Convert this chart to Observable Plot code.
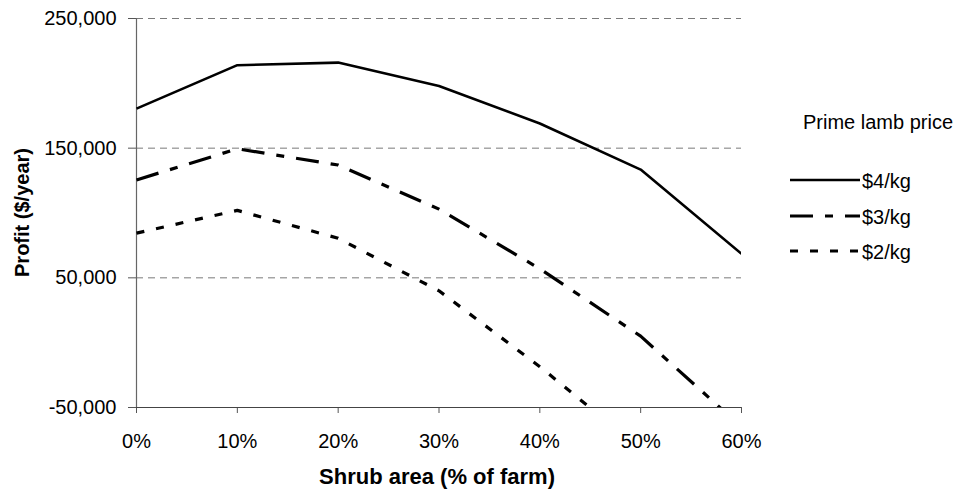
<!DOCTYPE html>
<html>
<head>
<meta charset="utf-8">
<script src="https://cdn.jsdelivr.net/npm/d3@7"></script>
<script src="https://cdn.jsdelivr.net/npm/@observablehq/plot@0.6"></script>
<style>
  html, body { margin: 0; padding: 0; background: #fff; }
  #chart { width: 958px; height: 493px; }
</style>
</head>
<body>
<div id="chart"></div>
<script>
// ---- Data ----
const shrubPct = [0, 10, 20, 30, 40, 50, 60];
const price4 = [180500, 214000, 216000, 198000, 169000, 133500, 68500];
const price3 = [125500, 149500, 137000, 103000, 57000, 5000, -65000];
const price2 = [84500, 102000, 80500, 40000, -18500, -82000, null];
const seriesNames = ["$4/kg", "$3/kg", "$2/kg"];
const yTicks = [-50000, 50000, 150000, 250000];
const gridTicks = [50000, 150000, 250000];
const xTicks = [0, 10, 20, 30, 40, 50, 60];
const legendTitle = "Prime lamb price";
const xTitle = "Shrub area (% of farm)";
const yTitle = "Profit ($/year)";

const FONT = "'Liberation Sans', Arial, Helvetica, sans-serif";
const styles = [
  {strokeWidth: 2.6, strokeDasharray: null},
  {strokeWidth: 3.2, strokeDasharray: "23,12,8,12"},
  {strokeWidth: 3.2, strokeDasharray: "8,12"}
];
const seriesValues = [price4, price3, price2];
const fmtY = d => (d < 0 ? "-" : "") + d3.format(",")(Math.abs(d));

const rows = seriesValues.map(vals =>
  shrubPct.map((x, i) => ({x, y: vals[i]})).filter(d => d.y != null)
);

const lineMarks = rows.map((r, k) => Plot.line(r, {
  x: "x", y: "y", stroke: "#000",
  strokeWidth: styles[k].strokeWidth,
  strokeDasharray: styles[k].strokeDasharray,
  strokeLinecap: "butt", strokeLinejoin: "miter",
  clip: true
}));

const svg = Plot.plot({
  width: 958, height: 493,
  marginLeft: 136, marginRight: 217, marginTop: 18, marginBottom: 86,
  style: {fontFamily: FONT, fontSize: "20px", color: "#000", background: "#fff", overflow: "visible"},
  x: {domain: [0, 60]},
  y: {domain: [-50000, 250000]},
  marks: [
    Plot.ruleY(gridTicks, {stroke: "#7a7a7a", strokeWidth: 1, strokeDasharray: "7,5"}),
    Plot.axisY(yTicks, {tickSize: 8, tickPadding: 12, tickFormat: fmtY, label: null, stroke: "#555", fill: "#000", fontSize: 20}),
    Plot.axisX(xTicks, {tickSize: 6, tickPadding: 20, tickFormat: d => d + "%", label: null, stroke: "#555", fill: "#000", fontSize: 20}),
    Plot.ruleX([0], {stroke: "#666", strokeWidth: 1.2}),
    Plot.ruleY([-50000], {stroke: "#444", strokeWidth: 1.2}),
    ...lineMarks
  ]
});

const s = d3.select(svg);
// Axis titles
s.append("text")
  .attr("x", 437).attr("y", 484)
  .attr("text-anchor", "middle")
  .attr("font-family", FONT).attr("font-size", 22).attr("font-weight", "bold")
  .attr("fill", "#000")
  .text(xTitle);
s.append("text")
  .attr("transform", "translate(29,212.5) rotate(-90)")
  .attr("text-anchor", "middle")
  .attr("font-family", FONT).attr("font-size", 20).attr("font-weight", "bold")
  .attr("fill", "#000")
  .text(yTitle);

// Legend
const lg = s.append("g").attr("font-family", FONT).attr("font-size", 20)
  .attr("fill", "#000").attr("text-anchor", "start");
lg.append("text").attr("x", 803).attr("y", 129).attr("text-anchor", "start").text(legendTitle);
const legY = [180, 216, 251];
seriesNames.forEach((name, k) => {
  lg.append("line")
    .attr("x1", 790).attr("x2", 860).attr("y1", legY[k]).attr("y2", legY[k])
    .attr("stroke", "#000").attr("stroke-width", styles[k].strokeWidth)
    .attr("stroke-dasharray", styles[k].strokeDasharray);
  lg.append("text").attr("x", 862).attr("y", legY[k] + 8).attr("text-anchor", "start").text(name);
});

document.getElementById("chart").appendChild(svg);
</script>
</body>
</html>
